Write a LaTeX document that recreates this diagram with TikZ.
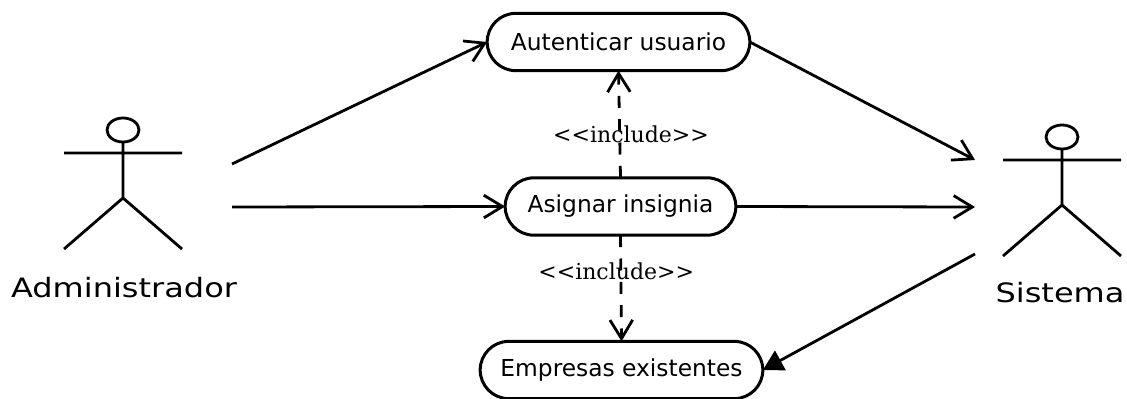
\documentclass[tikz,border=0pt]{standalone}
\usepackage{fontspec}
\setmainfont{DejaVu Sans}
\newfontfamily\stereofont{DejaVu Serif}
\usetikzlibrary{positioning, shapes.misc, arrows.meta}
\tikzset{>={Straight Barb[length=14pt, width=17pt]}}
\tikzset{
  usecase/.style={draw, rounded rectangle, line width=2.25pt, outer sep=0, inner sep=0, minimum height=43pt, font=\fontsize{17.5}{20}\selectfont},
  link/.style={line width=2.1pt},
  incl/.style={line width=2.1pt, dash pattern=on 9pt off 8.5pt},
  stereo/.style={font=\stereofont\fontsize{16.5}{20}\selectfont, inner sep=0},
  actorname/.style={font=\fontsize{20}{24}\selectfont, inner sep=0, xscale=1.2},
  actor/.pic={
    \draw[line width=2.1pt] (0,0) ellipse (16 and 12);
    \draw[line width=2.1pt] (0,12) -- (0,68) (-59,23) -- (59,23) (-59,119) -- (0,68) -- (59,119);
  }
}

\begin{document}
\begin{tikzpicture}[x=0.75pt, y=-0.75pt]
  \useasboundingbox (0,0) rectangle (1127,399);

  \node[usecase, minimum width=197pt] (autenticar) at (618.5,42) {Autenticar usuario};
  \node[usecase, minimum width=173pt] (asignar) at (620.5,206.5) {Asignar insignia};
  \node[usecase, minimum width=212pt] (empresas) at (621.5,370) {Empresas existentes};

  \pic at (123,130) {actor};
  \pic at (1062,137) {actor};
  \node[actorname] (admin) at (124,288) {Administrador};
  \node[actorname] (sistema) at (1060,293) {Sistema};

  \coordinate (adminA) at (232,164);
  \coordinate (adminB) at (232,207);
  \coordinate (sistemaA) at (975,160);
  \coordinate (sistemaB) at (975,207);
  \coordinate (sistemaC) at (975,254);

  \draw[link, ->] (adminA) -- (autenticar.west);
  \draw[link, ->] (adminB) -- (asignar.west);
  \draw[link, ->] (autenticar.east) -- (sistemaA);
  \draw[link, ->] (asignar.east) -- (sistemaB);
  \draw[link, -{Triangle[length=15pt, width=16.5pt]}] (sistemaC) -- (empresas.east);

  \draw[incl, ->] (asignar.north) -- node[stereo, pos=0.41, xshift=8.5pt] (inclA) {<{}<include>{}>} (autenticar.south);
  \draw[incl, ->] (asignar.south) -- node[stereo, pos=0.34, xshift=-3.5pt] (inclB) {<{}<include>{}>} (empresas.north);
\end{tikzpicture}
\end{document}
